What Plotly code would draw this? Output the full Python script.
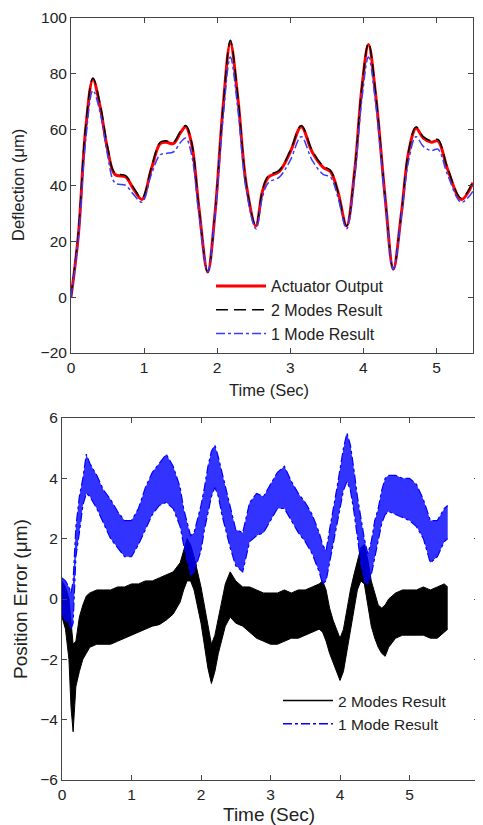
import plotly.graph_objects as go

# ---- top panel: deflection (um) vs time (s)
t_top = [0, 0.1, 0.2, 0.3, 0.4, 0.5, 0.6, 0.75, 0.85, 0.97,
         1.1, 1.22, 1.3, 1.4, 1.5, 1.57, 1.65, 1.75, 1.87, 1.97,
         2.08, 2.18, 2.28, 2.4, 2.53, 2.62, 2.7, 2.85, 3.0, 3.15,
         3.3, 3.45, 3.55, 3.65, 3.77, 3.88, 3.98, 4.07, 4.17, 4.3,
         4.41, 4.52, 4.62, 4.72, 4.82, 4.93, 5.02, 5.15, 5.34, 5.5]
actuator = [0, 22, 60, 78, 68, 53, 44, 43, 39, 35,
            46, 55, 55.5, 55, 59, 61, 55, 32, 9, 30,
            68, 91, 72, 40, 25.5, 38, 43, 45, 52, 61,
            52, 46.5, 45, 38, 25.5, 45, 75, 90.5, 72, 35,
            10, 30, 52, 60.5, 57, 55.5, 56, 46, 35, 41]
two_modes = [0, 23, 61, 78.5, 69, 54, 44.5, 43.5, 39.5, 35.5,
             46.5, 55.5, 56, 55.5, 59.5, 61.5, 55.5, 32, 9, 30,
             68, 92, 72.5, 40, 25.5, 38.5, 43.5, 45.5, 52.5, 61.5,
             52.5, 47, 45.5, 38, 25.5, 45, 75.5, 91, 72.5, 35,
             10, 30, 52.5, 61, 57.5, 56, 56.5, 46.5, 35.5, 41.5]
one_mode = [0, 21, 56, 74, 66, 51, 41, 40, 37, 34,
            44, 51, 51.5, 52, 55.5, 57, 51, 30, 9, 29,
            64, 86, 68, 38, 24.5, 36, 41, 43, 49, 57.5,
            49, 44, 43, 36, 24.5, 43, 71, 86, 69, 34,
            10, 29, 49, 57.5, 54, 52.5, 53, 44, 34, 38]

# ---- bottom panel: position error (um), noisy bands read as upper/lower envelopes
t_err = [0, 0.05, 0.1, 0.13, 0.16, 0.2, 0.25, 0.3, 0.35, 0.4,
         0.5, 0.6, 0.7, 0.8, 0.9, 1.0, 1.1, 1.2, 1.3, 1.4,
         1.5, 1.6, 1.7, 1.75, 1.8, 1.85, 1.9, 2.0, 2.05, 2.1,
         2.15, 2.2, 2.25, 2.3, 2.35, 2.42, 2.5, 2.6, 2.7, 2.8,
         2.9, 3.0, 3.1, 3.2, 3.3, 3.4, 3.5, 3.6, 3.7, 3.75,
         3.8, 3.85, 3.9, 3.95, 4.0, 4.05, 4.1, 4.15, 4.2, 4.25,
         4.3, 4.35, 4.4, 4.45, 4.5, 4.55, 4.6, 4.65, 4.7, 4.8,
         4.9, 5.0, 5.1, 5.2, 5.3, 5.4, 5.5, 5.55]
two_hi = [0.6, 0.4, 0.0, -0.8, -1.5, -1.4, -0.6, -0.2, 0.1, 0.2,
          0.3, 0.3, 0.3, 0.4, 0.4, 0.5, 0.5, 0.6, 0.6, 0.7,
          0.8, 0.9, 1.2, 1.6, 2.0, 1.8, 1.4, 0.4, -0.2, -0.9,
          -1.5, -1.2, -0.6, -0.1, 0.5, 0.9, 0.6, 0.4, 0.4, 0.3,
          0.2, 0.2, 0.2, 0.3, 0.2, 0.3, 0.3, 0.4, 0.5, 0.6,
          0.3, -0.3, -0.7, -1.0, -1.3, -1.0, -0.3, 0.3, 0.8, 1.3,
          1.7, 1.8, 1.3, 0.6, 0.2, -0.2, -0.3, -0.2, 0.0, 0.2,
          0.3, 0.3, 0.3, 0.4, 0.3, 0.4, 0.5, 0.4]
two_lo = [-0.6, -1.0, -2.0, -3.6, -4.4, -2.9, -2.4, -2.0, -1.8, -1.6,
          -1.5, -1.5, -1.5, -1.4, -1.3, -1.2, -1.1, -1.0, -0.9, -0.85,
          -0.7, -0.5, -0.1, 0.3, 0.6, 0.6, 0.3, -0.8, -1.5, -2.3,
          -2.8, -2.4, -1.8, -1.3, -0.9, -0.6, -0.8, -0.9, -1.1, -1.3,
          -1.4, -1.5, -1.5, -1.4, -1.3, -1.3, -1.2, -1.1, -1.0, -1.1,
          -1.4, -1.8, -2.1, -2.4, -2.7, -2.4, -1.7, -1.0, -0.3, 0.3,
          0.6, 0.5, -0.2, -0.9, -1.3, -1.6, -1.8, -1.9, -1.6, -1.3,
          -1.2, -1.2, -1.2, -1.2, -1.3, -1.3, -1.1, -1.0]
one_hi = [0.7, 0.6, 0.4, 0.2, 0.6, 2.4, 3.4, 4.0, 4.8, 4.5,
          4.1, 3.6, 3.3, 2.9, 2.6, 2.6, 3.0, 3.7, 4.2, 4.5,
          4.8, 4.4, 3.7, 3.0, 2.5, 2.1, 2.2, 3.1, 3.7, 4.4,
          4.9, 5.1, 4.7, 4.2, 3.7, 3.0, 2.3, 2.2, 3.2, 3.5,
          3.4, 3.8, 4.2, 4.4, 3.9, 3.5, 3.2, 2.8, 2.2, 1.8,
          1.6, 2.3, 2.9, 3.6, 4.3, 5.0, 5.5, 5.1, 4.3, 3.4,
          2.7, 2.0, 1.5, 1.9, 2.6, 3.0, 3.6, 4.0, 4.1, 4.1,
          4.0, 4.0, 3.8, 3.3, 2.6, 2.6, 3.0, 3.1]
one_lo = [-0.5, -0.7, -0.8, -1.0, -0.8, 1.4, 2.2, 3.1, 3.5, 3.4,
          3.0, 2.5, 2.0, 1.7, 1.4, 1.4, 1.8, 2.3, 2.8, 3.1,
          3.2, 3.0, 2.4, 1.8, 1.3, 0.8, 0.9, 1.6, 2.3, 2.9,
          3.4, 3.7, 3.4, 2.8, 2.3, 1.7, 1.1, 0.9, 1.9, 2.1,
          2.2, 2.6, 3.0, 3.0, 2.6, 2.2, 1.9, 1.5, 0.9, 0.5,
          0.6, 1.2, 1.8, 2.4, 3.0, 3.6, 3.9, 3.6, 2.9, 2.0,
          1.2, 0.6, 0.5, 0.8, 1.4, 2.0, 2.5, 2.8, 2.9, 2.8,
          2.7, 2.6, 2.4, 2.0, 1.2, 1.4, 1.9, 2.0]

top_ticks_x = [0, 1, 2, 3, 4, 5]
top_ticks_y = [-20, 0, 20, 40, 60, 80, 100]
bot_ticks_x = [0, 1, 2, 3, 4, 5, 6]
bot_ticks_y = [-6, -4, -2, 0, 2, 4, 6]

FONT = "Liberation Sans, Arial, sans-serif"
INK = "#222222"
OFF = 8  # default page body margin, the figure sits 8 px in from the corner
W, H = 483 - OFF, 825 - OFF


def px(x):
    # page pixel -> paper fraction
    return (x - OFF) / W


def py(y):
    return 1 - (y - OFF) / H


fig = go.Figure()

# top panel
fig.add_trace(go.Scatter(x=t_top, y=actuator, name="Actuator Output", mode="lines",
                         line=dict(color="red", width=3, shape="spline"),
                         legendgroup="a", xaxis="x", yaxis="y", legend="legend"))
fig.add_trace(go.Scatter(x=t_top, y=two_modes, name="2 Modes Result", mode="lines",
                         line=dict(color="black", width=1.5, dash="12px,6px", shape="spline"),
                         legendgroup="b", xaxis="x", yaxis="y", legend="legend"))
fig.add_trace(go.Scatter(x=t_top, y=one_mode, name="1 Mode Result", mode="lines",
                         line=dict(color="#3a3aff", width=1.5, dash="dashdot", shape="spline"),
                         legendgroup="c", xaxis="x", yaxis="y", legend="legend"))

# bottom panel: black band then blue band
fig.add_trace(go.Scatter(x=t_err, y=two_hi, mode="lines", showlegend=False,
                         line=dict(color="black", width=1),
                         xaxis="x2", yaxis="y2"))
fig.add_trace(go.Scatter(x=t_err, y=two_lo, mode="lines", showlegend=False,
                         line=dict(color="black", width=1), fill="tonexty",
                         fillcolor="black", xaxis="x2", yaxis="y2"))
fig.add_trace(go.Scatter(x=t_err, y=one_hi, mode="lines", showlegend=False,
                         line=dict(color="blue", width=1.2, dash="dashdot"),
                         xaxis="x2", yaxis="y2"))
fig.add_trace(go.Scatter(x=t_err, y=one_lo, mode="lines", showlegend=False,
                         line=dict(color="blue", width=1.2, dash="dashdot"), fill="tonexty",
                         fillcolor="rgba(0,0,255,0.8)", xaxis="x2", yaxis="y2"))
# legend entries for the bottom panel
fig.add_trace(go.Scatter(x=[None], y=[None], name="2 Modes Result", mode="lines",
                         line=dict(color="black", width=1.5), legendgroup="d",
                         xaxis="x2", yaxis="y2", legend="legend2"))
fig.add_trace(go.Scatter(x=[None], y=[None], name="1 Mode Result", mode="lines",
                         line=dict(color="blue", width=1.5, dash="dashdot"), legendgroup="e",
                         xaxis="x2", yaxis="y2", legend="legend2"))

axis_common = dict(showline=True, linecolor="#444444", linewidth=1, mirror="ticks",
                   ticks="inside", ticklen=5, tickcolor="#444444", showgrid=False,
                   zeroline=False, automargin=False, ticklabeloverflow="allow",
                   tickfont=dict(family=FONT, size=15.5, color=INK))

titles = [
    dict(text="Time (Sec)", x=px(269), y=py(390), size=16.5, angle=0),
    dict(text="Deflection (μm)", x=px(18), y=py(185), size=16.5, angle=-90),
    dict(text="Time (Sec)", x=px(269), y=py(814), size=19, angle=0),
    dict(text="Position Error (μm)", x=px(20), y=py(599), size=19, angle=-90),
]

fig.update_layout(
    width=W, height=H,
    margin=dict(l=0, r=0, t=0, b=0),
    paper_bgcolor="white", plot_bgcolor="white",
    font=dict(family=FONT, color=INK),
    xaxis=dict(domain=[px(71), px(473)], range=[0, 5.5], tickvals=top_ticks_x, anchor="y",
               **axis_common),
    yaxis=dict(domain=[py(353), py(18)], range=[-20, 100], tickvals=top_ticks_y, anchor="x",
               **axis_common),
    xaxis2=dict(domain=[px(62), px(479)], range=[0, 6], tickvals=bot_ticks_x, anchor="y2",
                **axis_common),
    yaxis2=dict(domain=[py(780), py(418)], range=[-6, 6], tickvals=bot_ticks_y, anchor="x2",
                **axis_common),
    legend=dict(x=px(211), y=py(269), xanchor="left", yanchor="top", bgcolor="rgba(0,0,0,0)",
                font=dict(size=16, color=INK), traceorder="normal", tracegroupgap=2,
                itemwidth=50),
    legend2=dict(x=px(278), y=py(684), xanchor="left", yanchor="top", bgcolor="rgba(0,0,0,0)",
                 font=dict(size=15.5, color=INK), traceorder="normal", tracegroupgap=2,
                 itemwidth=50),
    annotations=[
        dict(text=a["text"], x=a["x"], y=a["y"], xref="paper", yref="paper",
             xanchor="center", yanchor="middle", showarrow=False, textangle=a["angle"],
             font=dict(family=FONT, size=a["size"], color=INK))
        for a in titles
    ],
)

fig.write_html("out.html")
